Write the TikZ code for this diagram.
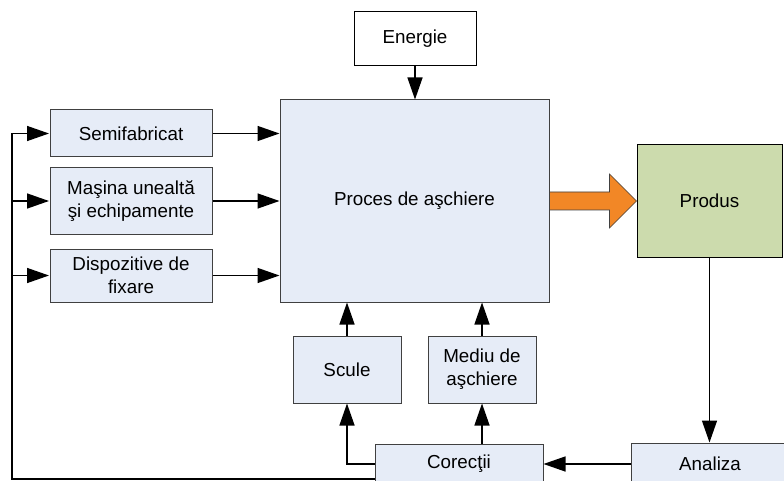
\documentclass[tikz,border=0pt]{standalone}
\usepackage{fontspec}
\setmainfont{Liberation Sans}
\usetikzlibrary{arrows.meta,calc}
\definecolor{boxblue}{RGB}{230,236,247}
\definecolor{boxedge}{RGB}{64,64,64}
\definecolor{prodgreen}{RGB}{204,219,173}
\definecolor{flowor}{RGB}{242,135,38}
\tikzset{
  blk/.style={draw=boxedge, line width=1pt, fill=boxblue, inner sep=0pt, align=center,
    font=\fontsize{18.8}{23}\selectfont},
  conn/.style={line width=1.4pt, -{Triangle[length=22pt,width=15pt]}},
  wire/.style={line width=1.4pt},
}
\begin{document}
\begin{tikzpicture}[x=1pt,y=-1pt]
\clip (0,0) rectangle (784,481);
\fill[white] (0,0) rectangle (784,481);

% boxes
\node[blk, fill=white, draw=black, minimum width=122pt, minimum height=54pt] (energie) at (415,39) {Energie};
\node[blk, minimum width=269pt, minimum height=202pt] (proces) at (414.5,201) {Proces de aşchiere};
\node[blk, minimum width=162pt, minimum height=47pt] (semi) at (131,133.5) {Semifabricat};
\node[blk, minimum width=162pt, minimum height=66pt] (masina) at (131,201) {Maşina unealtă\\şi echipamente};
\node[blk, minimum width=162pt, minimum height=53pt] (disp) at (131,275.5) {Dispozitive de\\fixare};
\node[blk, minimum width=108pt, minimum height=67pt] (scule) at (347,369.5) {Scule};
\node[blk, minimum width=108pt, minimum height=67pt] (mediu) at (482,369.5) {Mediu de\\aşchiere};
\node[blk, minimum width=168pt, minimum height=40pt] (corectii) at (459,464) {Corecţii};
\node[blk, minimum width=158pt, minimum height=42pt] (analiza) at (710,464) {Analiza};
\node[blk, draw=black, fill=prodgreen, minimum width=145pt, minimum height=112pt] (produs) at (709.5,201) {Produs};

% inputs into the cutting process
\draw[conn] (energie.south) -- (proces.north -| energie.south);
\draw[conn] (semi.east) -- (semi.east -| proces.west);
\draw[conn] (masina.east) -- (masina.east -| proces.west);
\draw[conn] (disp.east) -- (disp.east -| proces.west);
\draw[conn] (scule.north) -- (scule.north |- proces.south);
\draw[conn] (mediu.north) -- (mediu.north |- proces.south);

% main output arrow
\fill[flowor, draw=boxedge, line width=0.6pt]
  ($(proces.east)+(0,-9)$) -- ($(produs.west)+(-27,-9)$) -- ($(produs.west)+(-27,-27)$)
  -- (produs.west) -- ($(produs.west)+(-27,27)$) -- ($(produs.west)+(-27,9)$)
  -- ($(proces.east)+(0,9)$) -- cycle;

% feedback loop
\draw[conn] (produs.south) -- (produs.south |- analiza.north);
\draw[conn] (analiza.west) -- (corectii.east);
\draw[conn] (corectii.west) -| (scule.south);
\draw[conn] (mediu.south |- corectii.north) -- (mediu.south);
\coordinate (loopend) at ($(corectii.west)+(0,15)$);
\coordinate (loopcorner) at (12,479);
\draw[wire] (loopend) -- (loopcorner) -- (loopcorner |- semi.west);
\draw[conn] (loopcorner |- semi.west) -- ($(semi.west)+(-0.5,0)$);
\draw[conn] (loopcorner |- masina.west) -- ($(masina.west)+(-0.5,0)$);
\draw[conn] (loopcorner |- disp.west) -- ($(disp.west)+(-0.5,0)$);
\end{tikzpicture}
\end{document}
